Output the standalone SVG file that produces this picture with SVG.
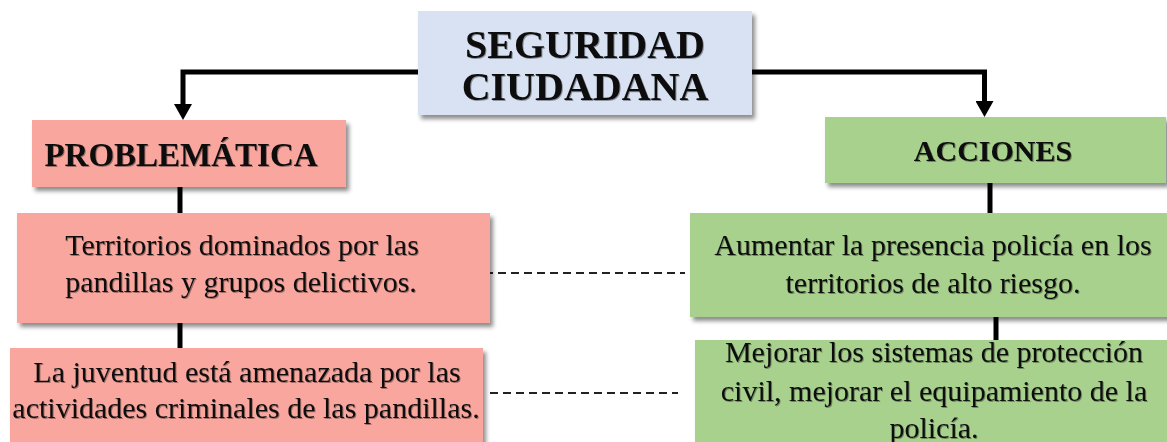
<svg xmlns="http://www.w3.org/2000/svg" width="1167" height="442" viewBox="0 0 1167 442">
  <defs>
    <filter id="boxShadow" x="-10%" y="-10%" width="130%" height="140%">
      <feDropShadow dx="3" dy="4" stdDeviation="2" flood-color="#000" flood-opacity="0.45"/>
    </filter>
    <filter id="textShadow" x="-5%" y="-20%" width="110%" height="150%">
      <feDropShadow dx="1" dy="1" stdDeviation="0.4" flood-color="#000" flood-opacity="0.35"/>
    </filter>
    <marker id="arrow" viewBox="0 0 16 18" refX="0" refY="9" markerWidth="16" markerHeight="18" markerUnits="userSpaceOnUse" orient="auto">
      <path d="M0,0 L16,9 L0,18 z" fill="#000"/>
    </marker>
  </defs>
  <style>
    .title { fill: #D9E2F3; filter: url(#boxShadow); }
    .pink { fill: #F9A79E; filter: url(#boxShadow); }
    .green { fill: #A9D18E; filter: url(#boxShadow); }
    text { font-family: "Liberation Serif", "Times New Roman", serif; fill: #111; text-anchor: middle; filter: url(#textShadow); }
    .h1 { font-size: 40px; font-weight: bold; }
    .h2 { font-size: 33px; font-weight: bold; }
    .h3 { font-size: 30px; font-weight: bold; }
    .body { font-size: 30px; }
    .solid { stroke: #000; stroke-width: 5; fill: none; stroke-linejoin: miter; }
    .dash { stroke: #222; stroke-width: 2; fill: none; stroke-dasharray: 8 5; }
  </style>

  <g id="connectors">
    <path class="solid" d="M418,72 H183 V104" marker-end="url(#arrow)"/>
    <path class="solid" d="M752,72 H984.5 V101" marker-end="url(#arrow)"/>
    <line class="solid" x1="180" y1="186" x2="180" y2="214"/>
    <line class="solid" x1="180" y1="322" x2="180" y2="349"/>
    <line class="solid" x1="990" y1="182" x2="990" y2="214"/>
    <line class="solid" x1="996" y1="316" x2="996" y2="341"/>
    <line class="dash" x1="485" y1="273" x2="685" y2="273"/>
    <line class="dash" x1="490" y1="393" x2="678" y2="393"/>
  </g>

  <g id="seguridad">
    <rect class="title" x="418" y="11" width="334" height="104"/>
    <text class="h1" x="585" y="58">SEGURIDAD</text>
    <text class="h1" x="585" y="100">CIUDADANA</text>
  </g>

  <g id="problematica">
    <rect class="pink" x="32" y="120" width="314" height="67"/>
    <text class="h2" x="181" y="166">PROBLEMÁTICA</text>
  </g>

  <g id="acciones">
    <rect class="green" x="825" y="117" width="341" height="66"/>
    <text class="h3" x="993" y="161">ACCIONES</text>
  </g>

  <g id="territorios">
    <rect class="pink" x="17" y="213" width="473" height="110"/>
    <text class="body" x="242" y="255">Territorios dominados por las</text>
    <text class="body" x="241" y="292">pandillas y grupos delictivos.</text>
  </g>

  <g id="juventud">
    <rect class="pink" x="10" y="348" width="473" height="110"/>
    <text class="body" x="247" y="382">La juventud está amenazada por las</text>
    <text class="body" x="246" y="418">actividades criminales de las pandillas.</text>
  </g>

  <g id="aumentar">
    <rect class="green" x="690" y="213" width="486" height="104"/>
    <text class="body" x="933" y="255">Aumentar la presencia policía en los</text>
    <text class="body" x="933" y="293">territorios de alto riesgo.</text>
  </g>

  <g id="mejorar">
    <rect class="green" x="695" y="340" width="480" height="120"/>
    <text class="body" x="934" y="362">Mejorar los sistemas de protección</text>
    <text class="body" x="934" y="401">civil, mejorar el equipamiento de la</text>
    <text class="body" x="934" y="438">policía.</text>
  </g>
</svg>
